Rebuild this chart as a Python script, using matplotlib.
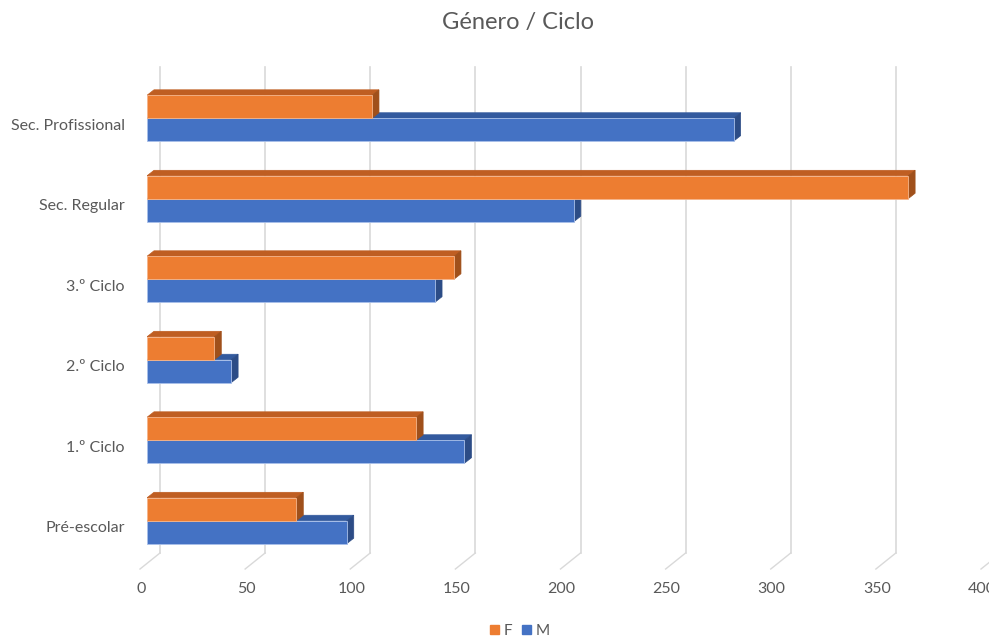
import matplotlib
matplotlib.use('Agg')
import matplotlib.pyplot as plt
from matplotlib.patches import Polygon, Patch
from matplotlib.transforms import ScaledTranslation

# dados
ciclos = ['Pré-escolar', '1.º Ciclo', '2.º Ciclo', '3.º Ciclo', 'Sec. Regular', 'Sec. Profissional']
valores_f = [71, 128, 32, 146, 362, 107]
valores_m = [95, 151, 40, 137, 203, 279]
ticks_x = [0, 50, 100, 150, 200, 250, 300, 350, 400]

# cores (Excel)
laranja = ('#ED7D31', '#BF5E22', '#A0501B')  # frente, topo, lado
azul = ('#4472C4', '#335A9E', '#2C4C86')
cinza = '#595959'

plt.rcParams['font.family'] = ['Lato', 'DejaVu Sans']

fig = plt.figure(figsize=(9.89, 6.4), dpi=100)
ax = fig.add_axes([147 / 989, 79 / 640, 841 / 989, 483 / 640])
ax.set_xlim(0, 400)
ax.set_ylim(-0.5, 5.5)

altura = 0.285
dx = 7 / 2.1025      # profundidade 3D em unidades de x
dy = 5.5 / 80.5      # profundidade 3D em unidades de y
grid_dx = 13 / 2.1025
piso_dx = 7 / 2.1025

# grelha na parede do fundo + linhas do piso
for t in ticks_x:
    ax.plot([t + grid_dx, t + grid_dx], [0.0166, 1.023], color='#D9D9D9', lw=1.2,
            transform=ax.get_xaxis_transform(), clip_on=False, zorder=0)
    ax.plot([t + grid_dx, t - piso_dx], [0.0166, -0.0166], color='#D9D9D9', lw=1.0,
            transform=ax.get_xaxis_transform(), clip_on=False, zorder=0)


def barra_3d(v, y0, cores, z):
    frente, topo, lado = cores
    y1 = y0 + altura
    ax.add_patch(Polygon([(0, y1), (v, y1), (v + dx, y1 + dy), (dx, y1 + dy)],
                         closed=True, facecolor=topo, edgecolor=topo, lw=0.5, zorder=z))
    ax.add_patch(Polygon([(v, y0), (v + dx, y0 + dy), (v + dx, y1 + dy), (v, y1)],
                         closed=True, facecolor=lado, edgecolor=lado, lw=0.5, zorder=z))
    ax.barh(y0, v, height=altura, align='edge', color=frente,
            edgecolor='#A9C0EA' if frente == azul[0] else '#F5B48A', lw=0.6, zorder=z + 0.1)


for i in range(len(ciclos)):
    barra_3d(valores_m[i], i - altura, azul, 2 + i * 2)
    barra_3d(valores_f[i], i, laranja, 3 + i * 2)

for s in ax.spines.values():
    s.set_visible(False)

ax.set_yticks(range(len(ciclos)))
ax.set_yticklabels(ciclos, fontsize=11.5, color=cinza)
ax.set_xticks(ticks_x)
ax.set_xticklabels([str(t) for t in ticks_x], fontsize=11.5, color=cinza)
ax.tick_params(axis='both', length=0)
ax.tick_params(axis='y', pad=16)
ax.tick_params(axis='x', pad=15)
for lab in ax.get_xticklabels():
    lab.set_transform(lab.get_transform() + ScaledTranslation(-6 / 100, 0, fig.dpi_scale_trans))
for lab in ax.get_yticklabels():
    lab.set_transform(lab.get_transform() + ScaledTranslation(0, -6 / 100, fig.dpi_scale_trans))

fig.text(518 / 989, 1 - 23 / 640, 'Género / Ciclo', ha='center', va='center',
         fontsize=17, color=cinza)

handles = [Patch(color=laranja[0], label='F'), Patch(color=azul[0], label='M')]
fig.legend(handles=handles, loc='center', bbox_to_anchor=(520 / 989, 1 - 631 / 640),
           ncol=2, frameon=False, fontsize=11, handlelength=0.6, handleheight=0.6,
           handletextpad=0.3, columnspacing=0.6, labelcolor=cinza)

fig.savefig('out.png', dpi=100)
